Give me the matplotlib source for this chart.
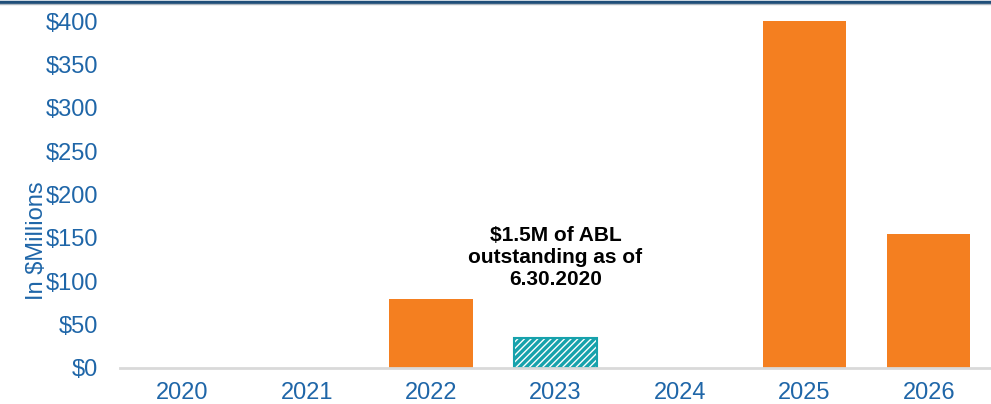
import matplotlib
matplotlib.use('Agg')
import matplotlib.pyplot as plt
from matplotlib.lines import Line2D

plt.rcParams['font.family'] = ['Liberation Sans', 'DejaVu Sans']
plt.rcParams['hatch.linewidth'] = 2.4

years = ['2020', '2021', '2022', '2023', '2024', '2025', '2026']
maturities = [0, 0, 80, 0, 0, 400, 155]
abl = [0, 0, 0, 35, 0, 0, 0]
yticks = [0, 50, 100, 150, 200, 250, 300, 350, 400]
note = '$1.5M of ABL\noutstanding as of\n6.30.2020'

BLUE = '#1f66a8'
ORANGE = '#f47f20'
TEAL = '#17a2ac'

fig = plt.figure(figsize=(9.91, 4.04), dpi=100)
ax = fig.add_axes([120 / 991, 36 / 404, 871 / 991, 347 / 404])

x = list(range(len(years)))
ax.bar(x, maturities, width=0.67, color=ORANGE)
# only draw the ABL bar where there is a balance (avoid zero-height outlines)
abl_x = [i for i, v in zip(x, abl) if v > 0]
abl_v = [v for v in abl if v > 0]
ax.bar(abl_x, abl_v, width=0.67, color='white', edgecolor=TEAL,
       hatch='/////', linewidth=1.5)

ax.text(3, 127, note, ha='center', va='center', fontsize=15,
        fontweight='bold', linespacing=1.2)

ax.set_xlim(-0.5, len(years) - 0.5)
ax.set_ylim(0, 400)
ax.set_xticks(x)
ax.set_xticklabels(years, fontsize=17, color=BLUE)
ax.set_yticks(yticks)
ax.set_yticklabels([f'${v}' for v in yticks], fontsize=17, color=BLUE)
ax.tick_params(length=0)
ax.tick_params(axis='y', pad=16)
ax.tick_params(axis='x', pad=10)
ax.set_ylabel('In $Millions', fontsize=17, color=BLUE)
ax.yaxis.set_label_coords(-0.083, 0.366)

for s in ['top', 'right', 'left']:
    ax.spines[s].set_visible(False)
ax.spines['bottom'].set_color('#d9d9d9')
ax.spines['bottom'].set_linewidth(2)

# header rule at the top of the slide
fig.add_artist(Line2D([0, 1], [0.996, 0.996], color='#1f4e79', lw=2.5))
fig.add_artist(Line2D([0, 1], [0.989, 0.989], color='#b0b8c0', lw=1))

fig.savefig('out.png', dpi=100)
